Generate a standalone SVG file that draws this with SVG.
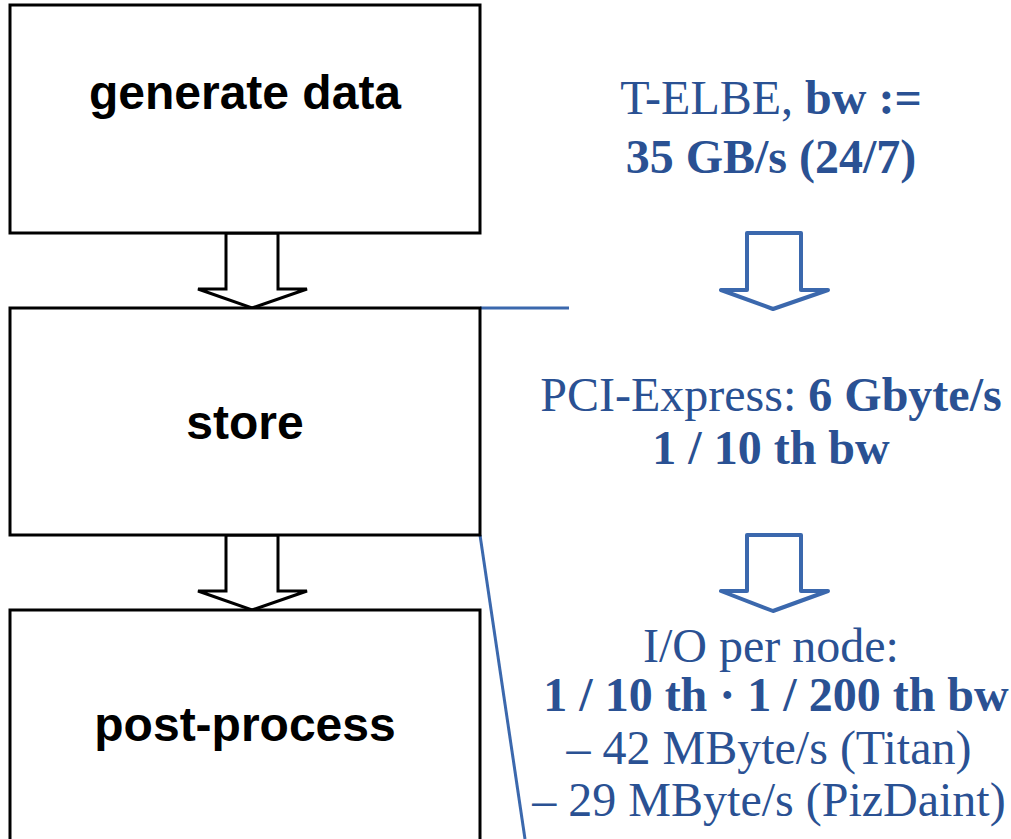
<svg xmlns="http://www.w3.org/2000/svg" width="1011" height="839" viewBox="0 0 1011 839">
<style>
.box{fill:#fff;stroke:#000;stroke-width:3}
.bar{fill:#fff;stroke:#000;stroke-width:3;stroke-linejoin:miter}
.barb{fill:#fff;stroke:#3B68AD;stroke-width:4;stroke-linejoin:round}
.lbl{font-family:"Liberation Sans",Arial,sans-serif;font-weight:bold;font-size:48px;fill:#000;text-anchor:middle}
.bt{font-family:"Liberation Serif","Times New Roman",serif;font-size:48px;fill:#2A5193;text-anchor:middle}
.b{font-weight:bold}
.conn{stroke:#3B68AD;stroke-width:3;fill:none}
</style>
<rect width="1011" height="839" fill="#fff"/>
<g id="connectors">
<line class="conn" x1="480" y1="308" x2="569" y2="308"/>
<line class="conn" x1="480" y1="535" x2="525" y2="839"/>
<polygon class="bar" points="226,233 278,233 278,289 307,289 252,308 198,289 226,289"/>
<polygon class="bar" points="226,535 278,535 278,591 307,591 252,610 198,591 226,591"/>
<polygon class="barb" points="747,233 801,233 801,290 828,290 773,309 721,290 747,290"/>
<polygon class="barb" points="747,535 801,535 801,591 828,591 773,611 721,591 747,591"/>
</g>
<g id="n-generate">
<rect class="box" x="10" y="5" width="470" height="228"/>
<text class="lbl" x="245" y="109">generate data</text>
</g>
<g id="n-store">
<rect class="box" x="10" y="308" width="470" height="227"/>
<text class="lbl" x="245" y="439">store</text>
</g>
<g id="n-post">
<rect class="box" x="10" y="610" width="470" height="240"/>
<text class="lbl" x="245" y="741">post-process</text>
</g>
<g id="t-elbe">
<text class="bt" x="771" y="114">T-ELBE, <tspan class="b">bw :=</tspan></text>
<text class="bt b" x="771" y="173">35 GB/s (24/7)</text>
</g>
<g id="t-pci">
<text class="bt" x="771" y="411">PCI-Express: <tspan class="b">6 Gbyte/s</tspan></text>
<text class="bt b" x="771" y="464">1 / 10 th bw</text>
</g>
<g id="t-io">
<text class="bt" x="771" y="662">I/O per node:</text>
<text class="bt b" x="776" y="711">1 / 10 th · 1 / 200 th bw</text>
<text class="bt" x="769" y="764">– 42 MByte/s (Titan)</text>
<text class="bt" x="769" y="816">– 29 MByte/s (PizDaint)</text>
</g>
</svg>
